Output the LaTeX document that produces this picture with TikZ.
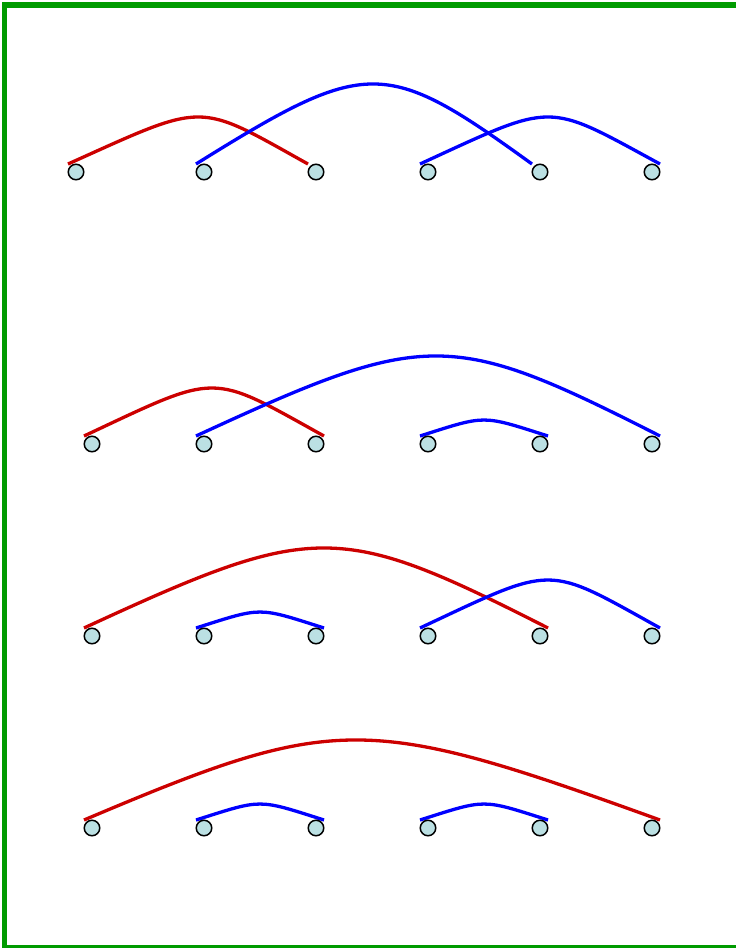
\documentclass[tikz,border=0pt]{standalone}
\usetikzlibrary{calc}
\definecolor{framegreen}{RGB}{0,155,0}
\definecolor{linkred}{RGB}{204,0,0}
\definecolor{linkblue}{RGB}{0,0,255}
\definecolor{dotfill}{RGB}{187,224,227}
\newcommand{\linkarc}[6]{%
  \draw[arcline,#1] (#2) .. controls ($(#2)+(#4,-#6)$) and ($(#3)+(-#5,-#6)$) .. (#3);}
\begin{document}
\begin{tikzpicture}[x=1pt,y=-1pt,
  dot/.style={circle,draw=black,line width=1.5pt,fill=dotfill,minimum size=15.5pt,inner sep=0pt},
  arcline/.style={line width=3.3pt},
  redarc/.style={draw=linkred},
  bluearc/.style={draw=linkblue}]
\useasboundingbox (0,0) rectangle (736,948);
\draw[framegreen,line width=5.5pt] (4.5,5) rectangle (760,948);
% positions of dots
\foreach \r/\y/\xa in {1/172/76,2/444/92,3/636/92,4/828/92}{
  \coordinate (p\r1) at (\xa,\y);
  \foreach \k/\x in {2/204,3/316,4/428,5/540,6/652}{
    \coordinate (p\r\k) at (\x,\y);
  }
}
% arc end points
\foreach \r in {1,2,3,4}{
  \foreach \k in {1,...,6}{
    \coordinate (l\r\k) at ($(p\r\k)+(-8,-8)$);
    \coordinate (r\r\k) at ($(p\r\k)+(8,-8)$);
  }
}
% row 1
\linkarc{redarc}{l11}{l13}{139.5}{112.5}{62.7}
\linkarc{bluearc}{l12}{l15}{171.5}{147.5}{106.7}
\linkarc{bluearc}{l14}{r16}{136.5}{115.5}{62.7}
% row 2
\linkarc{redarc}{l21}{r23}{136.5}{115.5}{64}
\linkarc{bluearc}{l22}{r26}{231}{210}{106.7}
\linkarc{bluearc}{l24}{r25}{67}{67}{21.3}
% row 3
\linkarc{redarc}{l31}{r35}{231}{210}{106.7}
\linkarc{bluearc}{l32}{r33}{67}{67}{21.3}
\linkarc{bluearc}{l34}{r36}{136.5}{115.5}{64}
% row 4
\linkarc{redarc}{l41}{r46}{252}{295}{106.7}
\linkarc{bluearc}{l42}{r43}{67}{67}{21.3}
\linkarc{bluearc}{l44}{r45}{67}{67}{21.3}
% dots
\foreach \r in {1,2,3,4}{
  \foreach \k in {1,...,6}{
    \node[dot] (n\r\k) at (p\r\k) {};
  }
}
\end{tikzpicture}
\end{document}
